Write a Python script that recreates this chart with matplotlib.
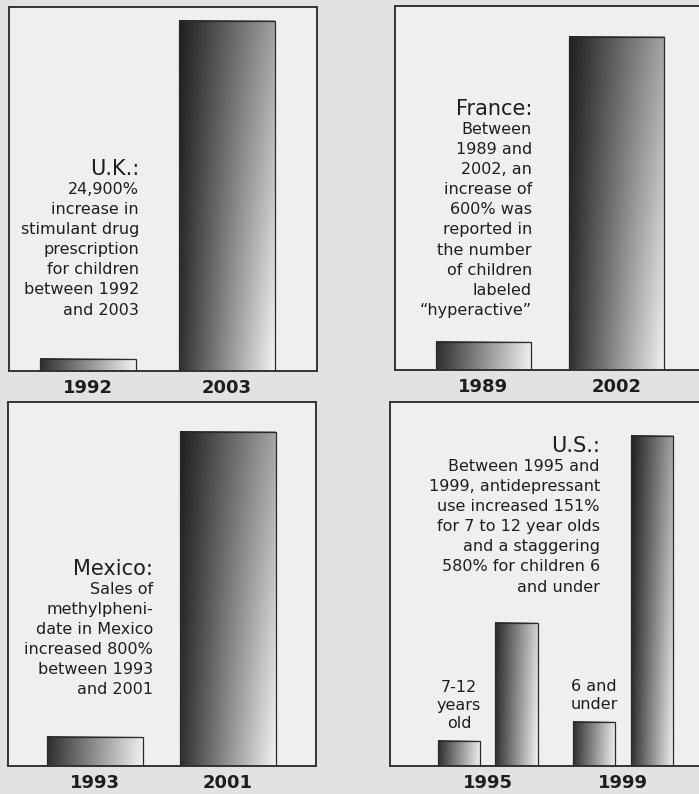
import matplotlib
matplotlib.use('Agg')
import matplotlib.pyplot as plt
from matplotlib.patches import Rectangle
import numpy as np

# bar heights, read off the picture as % of each panel's height (not to scale in the original)
uk_years = ['1992', '2003']
uk_values = [3.3, 96.2]

fr_years = ['1989', '2002']
fr_values = [7.7, 91.5]

mx_years = ['1993', '2001']
mx_values = [8.0, 91.8]

us_groups = ['1995', '1999']
us_first = [6.9, 12.1]     # left bar of each group
us_second = [39.3, 90.7]   # right bar of each group
us_group_notes = ['7-12\nyears\nold', '6 and\nunder']

uk_title = 'U.K.:'
uk_text = '24,900%\nincrease in\nstimulant drug\nprescription\nfor children\nbetween 1992\nand 2003'
fr_title = 'France:'
fr_text = ('Between\n1989 and\n2002, an\nincrease of\n600% was\nreported in\n'
           'the number\nof children\nlabeled\n\u201chyperactive\u201d')
mx_title = 'Mexico:'
mx_text = 'Sales of\nmethylpheni-\ndate in Mexico\nincreased 800%\nbetween 1993\nand 2001'
us_title = 'U.S.:'
us_text = ('Between 1995 and\n1999, antidepressant\nuse increased 151%\n'
           'for 7 to 12 year olds\nand a staggering\n580% for children 6\nand under')

W, H = 699, 794
BG = '#e2e2e4'
PANEL = '#eeeff1'
INK = '#1e1e1e'

fig = plt.figure(figsize=(W / 100, H / 100), dpi=100, facecolor=BG)


def px_axes(left, top, right, bottom):
    ax = fig.add_axes([left / W, 1 - bottom / H, (right - left) / W, (bottom - top) / H])
    ax.set_facecolor(PANEL)
    for s in ax.spines.values():
        s.set_color('#333335')
        s.set_linewidth(1.4)
    ax.set_yticks([])
    ax.tick_params(axis='x', length=0, pad=6)
    return ax


def gradient_bar(ax, x, w, h):
    nx, ny = 80, max(4, int(h * 3))
    u = np.linspace(0, 1, nx)
    yf = np.linspace(h, 0, ny) / 100.0
    dark = 0.12 + 0.07 * (1 - yf)
    light = 0.61 + 0.34 * (1 - yf)
    img = dark[:, None] + (light - dark)[:, None] * u[None, :]
    ax.imshow(img, cmap='gray', vmin=0, vmax=1, extent=(x - w / 2, x + w / 2, 0, h),
              aspect='auto', interpolation='bilinear', origin='upper', zorder=2)
    ax.add_patch(Rectangle((x - w / 2, 0), w, h, fill=False, edgecolor='#2b2b2b',
                           lw=0.9, zorder=3))


def finish(ax, ticks, labels, xlim):
    ax.set_xlim(*xlim)
    ax.set_ylim(0, 100)
    ax.set_xticks(ticks)
    ax.set_xticklabels(labels, fontsize=13, fontweight='bold', color=INK)


def note(ax, x, y_title, title, body):
    # x, y in axes fraction; y_title is the title baseline
    ax.text(x, y_title, title, transform=ax.transAxes, ha='right', va='baseline',
            fontsize=15, color=INK, zorder=4)
    ax.text(x, y_title - 0.02, body, transform=ax.transAxes, ha='right', va='top',
            fontsize=11.5, color=INK, linespacing=1.42, multialignment='right', zorder=4)


# U.K.
ax = px_axes(9, 7, 317, 371)
pos = np.arange(len(uk_years))
for p, v in zip(pos, uk_values):
    gradient_bar(ax, p, 0.69, v)
finish(ax, pos, uk_years, (-0.568, 1.647))
note(ax, (139 - 9) / 308, (371 - 175) / 364, uk_title, uk_text)

# France
ax = px_axes(395, 6, 703, 370)
pos = np.arange(len(fr_years))
for p, v in zip(pos, fr_values):
    gradient_bar(ax, p, 0.72, v)
finish(ax, pos, fr_years, (-0.665, 1.65))
note(ax, (532 - 395) / 308, (370 - 115) / 364, fr_title, fr_text)

# Mexico
ax = px_axes(8, 402, 316, 766)
pos = np.arange(len(mx_years))
for p, v in zip(pos, mx_values):
    gradient_bar(ax, p, 0.72, v)
finish(ax, pos, mx_years, (-0.654, 1.662))
note(ax, (153 - 8) / 308, (766 - 575) / 364, mx_title, mx_text)

# U.S.
ax = px_axes(390, 402, 702, 766)
pos = np.arange(len(us_groups))
off, bw = 0.2135, 0.315
for p, v1, v2, txt in zip(pos, us_first, us_second, us_group_notes):
    gradient_bar(ax, p - off, bw, v1)
    gradient_bar(ax, p + off, bw, v2)
    ax.text(p - off, v1 + 2.8, txt, ha='center', va='bottom', fontsize=11.5,
            color=INK, linespacing=1.25, zorder=4)
finish(ax, pos, us_groups, (-0.723, 1.584))
note(ax, (600 - 390) / 312, (766 - 452) / 364, us_title, us_text)

fig.savefig('out.png', dpi=100, facecolor=BG)
